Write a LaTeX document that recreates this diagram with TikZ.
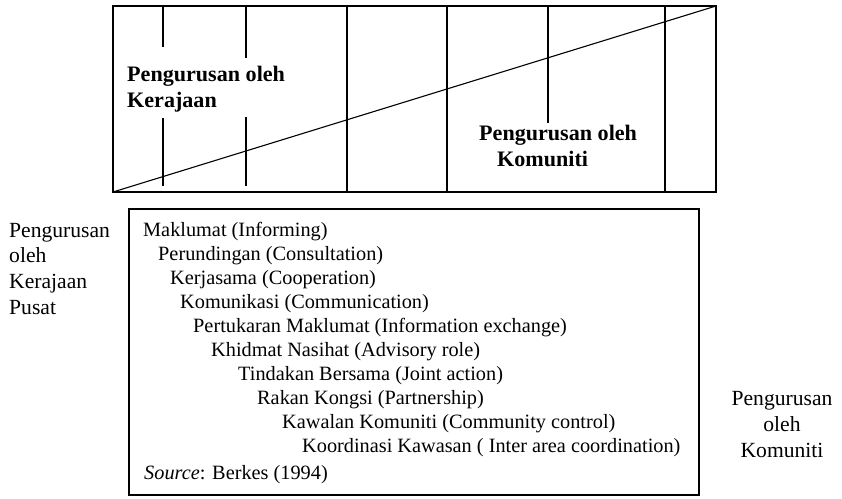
\documentclass[tikz,border=0pt]{standalone}
\usepackage{fontspec}
\setmainfont{Liberation Serif}
\begin{document}
\begin{tikzpicture}[x=1pt,y=-1pt,
  frame/.style={line width=1.2pt,line join=miter},
  rule/.style={line width=1.1pt},
  bodytxt/.style={anchor=base west,inner sep=0pt,font=\fontsize{20.3}{24}\selectfont},
  boldtxt/.style={anchor=base west,inner sep=0pt,align=left,font=\fontsize{22.1}{26}\selectfont\bfseries},
  sidetxt/.style={inner sep=0pt,font=\fontsize{21.6}{25.7}\selectfont}]
\useasboundingbox (0,0) rectangle (842,498);
% top box
\draw[frame] (113,6) rectangle (716,192);
\draw[rule] (163,6) -- (163,47);
\draw[rule] (163,118) -- (163,186);
\draw[rule] (246,6) -- (246,58);
\draw[rule] (246,117) -- (246,186);
\draw[rule] (347,6) -- (347,192);
\draw[rule] (447,6) -- (447,192);
\draw[rule] (548,6) -- (548,123);
\draw[rule] (665,6) -- (665,192);
\draw[rule] (113,192) -- (716,6);
\node[boldtxt] (govtop1) at (127,81) {Pengurusan oleh};
\node[boldtxt] (govtop2) at (127,107) {Kerajaan};
\node[boldtxt] (comtop1) at (479,140) {Pengurusan oleh};
\node[boldtxt] (comtop2) at (497,166) {Komuniti};
% bottom box
\draw[frame] (129,209) rectangle (699,495);
\node[bodytxt] (r1) at (143,236) {Maklumat (Informing)};
\node[bodytxt] (r2) at (158,260) {Perundingan (Consultation)};
\node[bodytxt] (r3) at (170,284) {Kerjasama (Cooperation)};
\node[bodytxt] (r4) at (180,308) {Komunikasi (Communication)};
\node[bodytxt] (r5) at (193,332) {Pertukaran Maklumat (Information exchange)};
\node[bodytxt] (r6) at (211,356) {Khidmat Nasihat (Advisory role)};
\node[bodytxt] (r7) at (238,380) {Tindakan Bersama (Joint action)};
\node[bodytxt] (r8) at (257,404) {Rakan Kongsi (Partnership)};
\node[bodytxt] (r9) at (282,428) {Kawalan Komuniti (Community control)};
\node[bodytxt] (r10) at (302,452) {Koordinasi Kawasan ( Inter area coordination)};
\node[bodytxt] (src) at (144,479) {\textit{Source}: Berkes (1994)};
% side labels
\node[sidetxt,anchor=base west] (l1) at (9,237) {Pengurusan};
\node[sidetxt,anchor=base west] (l2) at (9,262.5) {oleh};
\node[sidetxt,anchor=base west] (l3) at (9,288) {Kerajaan};
\node[sidetxt,anchor=base west] (l4) at (9,314) {Pusat};
\node[sidetxt,anchor=base] (k1) at (782,405) {Pengurusan};
\node[sidetxt,anchor=base] (k2) at (782,431) {oleh};
\node[sidetxt,anchor=base] (k3) at (782,457) {Komuniti};
\end{tikzpicture}
\end{document}
